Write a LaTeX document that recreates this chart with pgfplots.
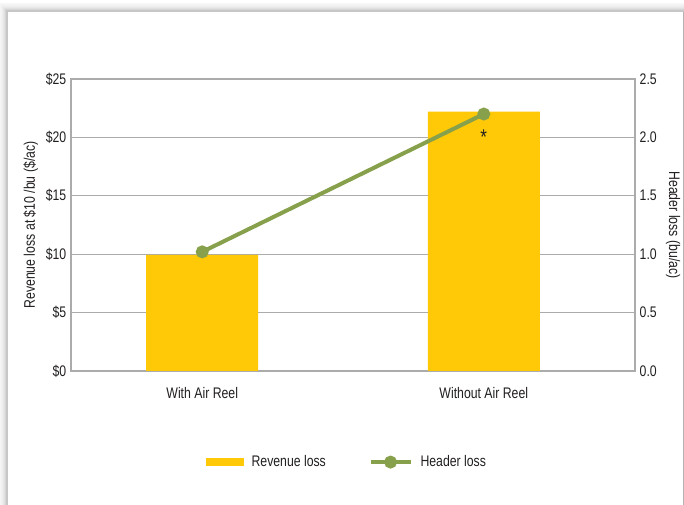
\documentclass[border=0pt]{standalone}
\usepackage{pgfplots}
\pgfplotsset{compat=1.18}
\usepackage{fontspec}
\setmainfont{Liberation Sans}[FakeStretch=0.8]
\definecolor{baryel}{HTML}{FFC907}
\definecolor{lngreen}{HTML}{87A04B}
\definecolor{gridg}{HTML}{ABABAB}
\definecolor{txt}{HTML}{231F20}
\newcommand{\cfont}{\fontsize{11.5}{13}\selectfont}
\begin{document}
\begin{tikzpicture}
\useasboundingbox (0,0) rectangle (513pt,378.75pt);
\foreach \i/\c in {8/3,7/4,6/5,5/7,4/9,3/12,2/16,1/22}{
  \draw[black!\c, line width=0.8pt] ({6pt-\i*0.75pt}, -20pt) rectangle ({512.25pt+\i*0.75pt}, {369.75pt+\i*0.75pt});
}
\fill[white] (6pt,-20pt) rectangle (512.25pt,369.75pt);
\draw[black!30, line width=0.5pt] (512.25pt,-20pt) -- (512.25pt,369.75pt);
\begin{axis}[
  at={(53.25pt,100.5pt)}, anchor=south west,
  scale only axis, width=423pt, height=219pt,
  xmin=-0.466, xmax=1.537, ymin=0, ymax=25,
  ybar, bar width=84pt,
  xtick={0,1}, xticklabels={With Air Reel, Without Air Reel},
  ytick={0,5,10,15,20,25},
  yticklabel={\$\pgfmathprintnumber{\tick}},
  ytick pos=left, xtick pos=bottom,
  major tick length=0pt,
  ymajorgrids, grid style={gridg, line width=0.9pt},
  axis line style={gridg, line width=0.9pt},
  tick label style={font=\cfont, text=txt},
  /pgf/number format/assume math mode=true,
  ylabel={Revenue loss at \$10 /bu (\$/ac)},
  ylabel style={font=\cfont, text=txt, yshift=-1pt},
  xticklabel style={yshift=-9pt},
]
\addplot[fill=baryel, draw=none] coordinates {(0,9.95) (1,22.2)};
\end{axis}
\begin{axis}[
  at={(53.25pt,100.5pt)}, anchor=south west,
  scale only axis, width=423pt, height=219pt,
  xmin=-0.466, xmax=1.537, ymin=0, ymax=2.5,
  axis y line*=right, axis x line=none,
  ytick={0,0.5,1,1.5,2,2.5},
  yticklabel style={/pgf/number format/fixed, /pgf/number format/fixed zerofill, /pgf/number format/precision=1},
  major tick length=0pt,
  axis line style={gridg, line width=0.9pt},
  tick label style={font=\cfont, text=txt},
  /pgf/number format/assume math mode=true,
  ylabel={Header loss (bu/ac)},
  ylabel style={font=\cfont, text=txt, rotate=180},
  legend style={draw=none, at={(0.49,-0.312)}, anchor=center, legend columns=2,
    font=\cfont, text=txt,
    /tikz/every odd column/.append style={column sep=4pt},
    /tikz/every even column/.append style={column sep=30pt}},
]
\addlegendimage{legend image code/.code={\fill[baryel] (0pt,-2.6pt) rectangle (27.75pt,2.6pt);}}
\addlegendentry{Revenue loss}
\addplot[lngreen, line width=3pt, mark=*, mark size=3.3pt,
  legend image code/.code={\draw[lngreen, line width=3pt] (0pt,0pt) -- (30pt,0pt); \fill[lngreen] (15pt,0pt) circle (3.3pt);}]
  coordinates {(0,1.02) (1,2.2)};
\addlegendentry{Header loss}
\node[font=\fontsize{16}{16}\selectfont, text=txt] at (axis cs:1,2.0) {*};
\end{axis}
\end{tikzpicture}
\end{document}
